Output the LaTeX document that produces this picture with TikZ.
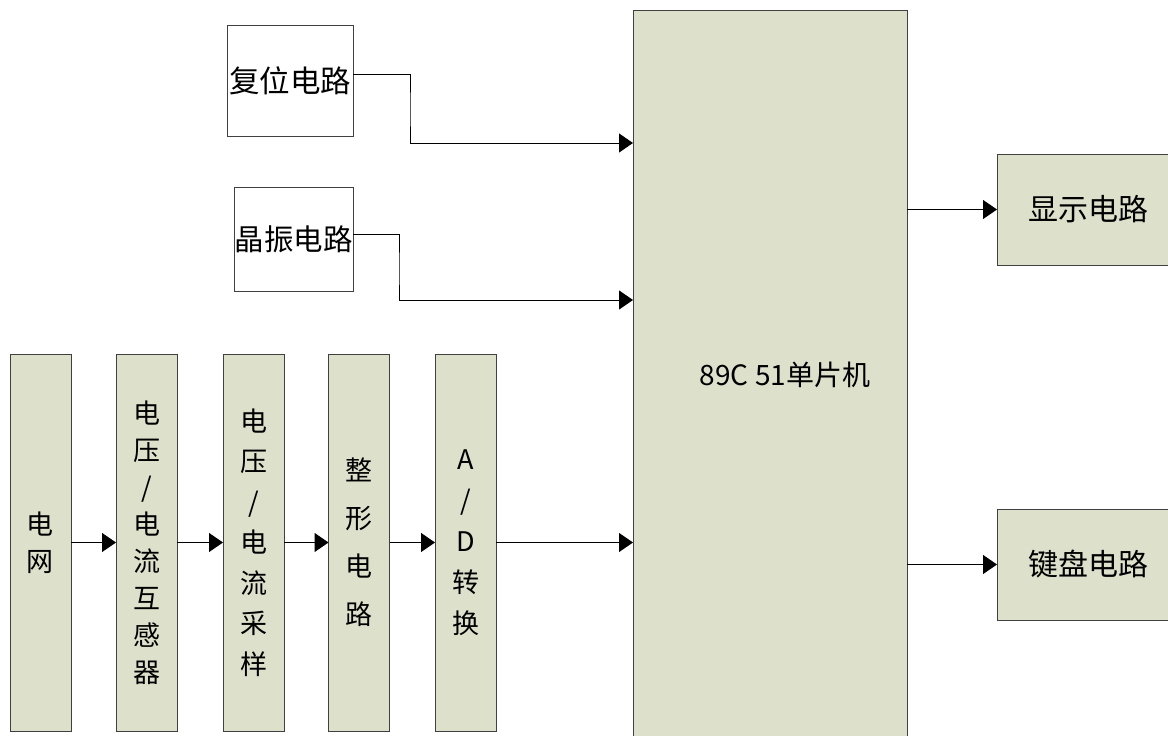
\documentclass[tikz,border=0pt]{standalone}
\usepackage{fontspec}
\setmainfont{Noto Sans CJK SC}
\usepackage{tikz}
\usetikzlibrary{arrows.meta, positioning, calc}
\definecolor{boxfill}{RGB}{221,224,203}
\definecolor{boxline}{RGB}{64,64,64}
\tikzset{
  box/.style={draw=boxline, line width=1pt, fill=boxfill, inner sep=0pt, outer sep=0pt},
  wbox/.style={box, fill=white, font=\fontsize{30.5pt}{34pt}\selectfont},
  hbox/.style={box, font=\fontsize{30pt}{34pt}\selectfont},
  vbox/.style={box, minimum width=61pt, minimum height=377pt, align=center,
    font=\fontsize{27pt}{#1}\selectfont},
  arr/.style={-{Triangle[length=14pt, width=19pt]}, line width=1pt},
}
\begin{document}
\begin{tikzpicture}[x=1pt, y=-1pt]
    \useasboundingbox (0,0) rectangle (1168,736);
    \node[vbox=37pt] (grid) at (40.5,542.5) {电\\网};
    \node[vbox=37pt] (ct) at (146.5,542.5) {电\\压\\/\\电\\流\\互\\感\\器};
    \node[vbox=40.5pt] (samp) at (253.5,542.5) {电\\压\\/\\电\\流\\采\\样};
    \node[vbox=48pt] (shape) at (359,542.5) {整\\形\\电\\路};
    \node[vbox=41pt] (ad) at (465.5,542.5) {A\\/\\D\\转\\换};
    \node[wbox, minimum width=126pt, minimum height=111pt] (reset) at (290,80.5) {复位电路};
    \node[wbox, minimum width=119pt, minimum height=104pt, font=\fontsize{29.5pt}{34pt}\selectfont] (xtal) at (293.5,239) {晶振电路};
    \node[box, minimum width=274pt, minimum height=730pt,
      label={[font=\fontsize{28pt}{34pt}\selectfont, xshift=15pt]center:89C 51单片机}] (mcu) at (770,375) {};
    \node[hbox, minimum width=182pt, minimum height=111pt] (disp) at (1088,209.5) {显示电路};
    \node[hbox, minimum width=182pt, minimum height=111pt] (keyb) at (1088,564.5) {键盘电路};
    \draw[arr] (grid) -- (ct);
    \draw[arr] (ct) -- (samp);
    \draw[arr] (samp) -- (shape);
    \draw[arr] (shape) -- (ad);
    \draw[arr] (ad.east) -- (ad.east -| mcu.west);
    \draw[arr] ([yshift=6.5pt]reset.east) -| (410,110) |- (mcu.west |- 0,143);
    \draw[arr] ([yshift=5pt]xtal.east) -| (399,270) |- (mcu.west |- 0,300);
    \draw[arr] (mcu.east |- disp.west) -- (disp.west);
    \draw[arr] (mcu.east |- keyb.west) -- (keyb.west);
  \end{tikzpicture}
\end{document}
